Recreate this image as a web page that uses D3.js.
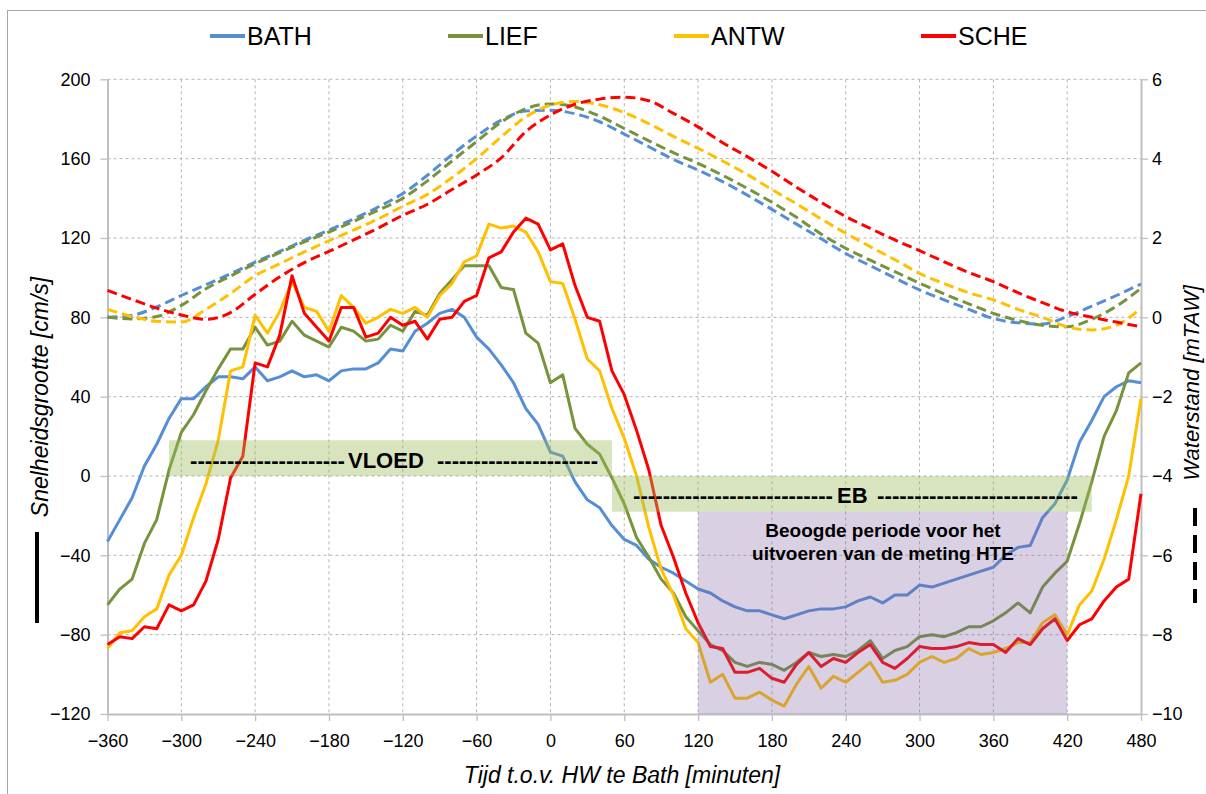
<!DOCTYPE html>
<html>
<head>
<meta charset="utf-8">
<script src="https://cdn.jsdelivr.net/npm/d3@7"></script>
<style>
  body { margin: 0; background: #fff; }
  svg { display: block; }
  text { font-family: "Liberation Sans", Arial, sans-serif; }
</style>
</head>
<body>
<svg id="chart" width="1206" height="794"></svg>
<script>
// Time axis (minutes relative to high water at Bath)
const timeSpeed = [
  -360,-350,-340,-330,-320,-310,-300,-290,-280,-270,
  -260,-250,-240,-230,-220,-210,-200,-190,-180,-170,
  -160,-150,-140,-130,-120,-110,-100,-90,-80,-70,
  -60,-50,-40,-30,-20,-10,0,10,20,30,
  40,50,60,70,80,90,100,110,120,130,
  140,150,160,170,180,190,200,210,220,230,
  240,250,260,270,280,290,300,310,320,330,
  340,350,360,370,380,390,400,410,420,430,
  440,450,460,470,480
];
const timeLevel = [
  -360,-340,-320,-300,-280,-260,-240,-220,-200,-180,
  -160,-140,-120,-100,-80,-60,-40,-20,0,20,
  40,60,80,100,120,140,160,180,200,220,
  240,260,280,300,320,340,360,380,400,420,
  440,460,480
];

// Current speed [cm/s] per station
const bathSpeed = [
  -33,-22,-11,5,16,29,39,39,45,50,
  50,49,55,48,50,53,50,51,48,53,
  54,54,57,64,63,73,77,82,84,80,
  70,64,56,47,34,26,12,10,-3,-12,
  -16,-25,-32,-35,-42,-46,-49,-53,-57,-59,
  -63,-66,-68,-68,-70,-72,-70,-68,-67,-67,
  -66,-63,-61,-64,-60,-60,-55,-56,-54,-52,
  -50,-48,-46,-40,-36,-35,-21,-14,-2,17,
  28,40,45,48,47
];
const liefSpeed = [
  -65,-57,-52,-34,-22,3,22,31,43,54,
  64,64,75,66,68,78,71,68,65,75,
  73,68,69,76,73,83,81,92,99,106,
  106,106,95,94,72,67,47,51,24,16,
  11,-1,-14,-31,-41,-52,-59,-71,-78,-85,
  -88,-94,-96,-94,-95,-98,-94,-89,-91,-90,
  -91,-88,-83,-92,-88,-86,-81,-80,-81,-79,
  -76,-76,-73,-69,-64,-69,-56,-49,-43,-24,
  -3,20,33,52,57
];
const antwSpeed = [
  -87,-79,-78,-71,-67,-50,-40,-21,-4,18,
  53,55,81,72,83,98,85,83,73,91,
  85,77,80,84,82,85,80,91,97,108,
  111,127,125,126,123,113,98,97,79,59,
  53,34,19,0,-26,-47,-60,-77,-84,-104,
  -100,-112,-112,-109,-113,-116,-105,-96,-107,-101,
  -104,-99,-94,-104,-103,-100,-94,-91,-94,-92,
  -87,-90,-89,-87,-84,-84,-74,-70,-80,-65,
  -58,-42,-22,0,39
];
const scheSpeed = [
  -85,-81,-82,-76,-77,-65,-68,-65,-53,-32,
  -1,10,57,55,71,101,82,75,68,85,
  85,70,72,80,76,78,69,79,80,88,
  91,110,113,123,130,127,114,117,96,80,
  78,53,41,23,3,-25,-41,-59,-74,-86,
  -87,-99,-99,-97,-102,-104,-95,-89,-96,-92,
  -94,-89,-85,-94,-97,-92,-86,-87,-87,-86,
  -84,-85,-85,-89,-82,-85,-77,-72,-83,-75,
  -72,-63,-56,-52,-9
];

// Water level [mTAW] per station
const bathLevel = [
  0.0,0.05,0.26,0.55,0.82,1.1,1.39,1.66,1.94,2.2,
  2.48,2.78,3.12,3.58,4.1,4.57,4.97,5.2,5.22,5.13,
  4.93,4.62,4.3,3.98,3.71,3.42,3.08,2.72,2.35,1.98,
  1.61,1.3,0.99,0.69,0.44,0.2,-0.03,-0.14,-0.17,0.02,
  0.28,0.55,0.84
];
const liefLevel = [
  0.0,-0.04,0.02,0.3,0.72,1.04,1.35,1.63,1.9,2.15,
  2.42,2.7,3.0,3.44,3.94,4.43,4.92,5.26,5.38,5.3,
  5.07,4.76,4.45,4.15,3.88,3.58,3.25,2.9,2.52,2.1,
  1.74,1.44,1.15,0.86,0.59,0.34,0.1,-0.08,-0.2,-0.24,
  -0.05,0.28,0.73
];
const antwLevel = [
  0.2,0.02,-0.1,-0.12,0.2,0.6,1.05,1.35,1.65,1.93,
  2.2,2.48,2.8,3.1,3.52,4.0,4.55,5.05,5.35,5.44,
  5.36,5.16,4.88,4.56,4.26,3.94,3.6,3.22,2.86,2.48,
  2.12,1.78,1.45,1.11,0.85,0.62,0.44,0.2,0.0,-0.24,
  -0.32,-0.2,0.23
];
const scheLevel = [
  0.68,0.45,0.23,0.06,-0.05,0.12,0.58,1.02,1.38,1.66,
  1.95,2.25,2.57,2.85,3.22,3.59,4.02,4.68,5.1,5.37,
  5.5,5.55,5.46,5.14,4.8,4.4,4.05,3.68,3.28,2.9,
  2.54,2.24,1.95,1.68,1.4,1.13,0.9,0.62,0.37,0.14,
  0.0,-0.12,-0.24
];

const stations = ["BATH", "LIEF", "ANTW", "SCHE"];
const colors = ["#558ED5", "#77933C", "#FFC000", "#FF0000"];
const speeds = [bathSpeed, liefSpeed, antwSpeed, scheSpeed];
const levels = [bathLevel, liefLevel, antwLevel, scheLevel];

// Axis ticks
const xTicks = [-360,-300,-240,-180,-120,-60,0,60,120,180,240,300,360,420,480];
const yLeftTicks = [-120,-80,-40,0,40,80,120,160,200];
const yRightTicks = [-10,-8,-6,-4,-2,0,2,4,6];

// Shaded phases: [start, end] in minutes, [low, high] in cm/s
const floodSpan = [-310, 50], floodBand = [0, 18];
const ebbSpan = [50, 440], ebbBand = [-18, 0];
const targetSpan = [120, 420], targetBand = [-120, -18];

const svg = d3.select("#chart");
const plot = { left: 107.5, right: 1141, top: 79.3, bottom: 714 };

const x = d3.scaleLinear().domain([-360, 480]).range([plot.left, plot.right]);
const yL = d3.scaleLinear().domain([-120, 200]).range([plot.bottom, plot.top]);
const yR = d3.scaleLinear().domain([-10, 6]).range([plot.bottom, plot.top]);

// Outer frame
svg.append("rect")
  .attr("x", 7.5).attr("y", 10.5).attr("width", 1220).attr("height", 800)
  .attr("fill", "none").attr("stroke", "#a6a6a6").attr("stroke-width", 1);

// Grid
const grid = svg.append("g").attr("stroke", "#b4b4b4").attr("stroke-width", 1)
  .attr("stroke-dasharray", "3,3");
grid.selectAll("line.h").data(yLeftTicks.filter(v => v > -120)).join("line")
  .attr("x1", plot.left).attr("x2", plot.right)
  .attr("y1", d => yL(d)).attr("y2", d => yL(d));
grid.selectAll("line.v").data(xTicks.filter(t => t > -360 && t < 480)).join("line")
  .attr("y1", plot.top).attr("y2", plot.bottom)
  .attr("x1", d => x(d)).attr("x2", d => x(d));

// Axes
function styleAxis(g) {
  g.select(".domain").attr("stroke", "#bfbfbf").attr("stroke-width", 2);
  g.selectAll(".tick line").attr("stroke", "#bfbfbf").attr("stroke-width", 1.3);
  g.selectAll(".tick text").attr("fill", "#000").style("font-size", "18px")
    .style("font-family", '"Liberation Sans", Arial, sans-serif');
}
svg.append("g").attr("transform", `translate(0,${plot.bottom})`)
  .call(d3.axisBottom(x).tickValues(xTicks).tickSize(7).tickSizeOuter(0).tickPadding(13))
  .call(styleAxis);
svg.append("g").attr("transform", `translate(${plot.left},0)`)
  .call(d3.axisLeft(yL).tickValues(yLeftTicks).tickSize(7).tickSizeOuter(0).tickPadding(10))
  .call(styleAxis);
svg.append("g").attr("transform", `translate(${plot.right},0)`)
  .call(d3.axisRight(yR).tickValues(yRightTicks).tickSize(7).tickSizeOuter(0).tickPadding(4))
  .call(styleAxis);

// Water level curves (dashed, right axis)
const levelLine = d3.line().x(d => x(d[0])).y(d => yR(d[1])).curve(d3.curveMonotoneX);
levels.forEach((vals, i) => {
  svg.append("path")
    .datum(timeLevel.map((t, k) => [t, vals[k]]))
    .attr("d", levelLine)
    .attr("fill", "none").attr("stroke", colors[i]).attr("stroke-width", 3)
    .attr("stroke-dasharray", "10,5");
});

// Current speed curves (solid, left axis)
const speedLine = d3.line().x(d => x(d[0])).y(d => yL(d[1]));
speeds.forEach((vals, i) => {
  svg.append("path")
    .datum(timeSpeed.map((t, k) => [t, vals[k]]))
    .attr("d", speedLine)
    .attr("fill", "none").attr("stroke", colors[i]).attr("stroke-width", 3)
    .attr("stroke-linejoin", "round");
});

// Phase shading
function band(span, range, fill, opacity) {
  svg.append("rect")
    .attr("x", x(span[0])).attr("width", x(span[1]) - x(span[0]))
    .attr("y", yL(range[1])).attr("height", yL(range[0]) - yL(range[1]))
    .attr("fill", fill).attr("fill-opacity", opacity);
}
band(floodSpan, floodBand, "rgb(155,187,89)", 0.4);
band(ebbSpan, ebbBand, "rgb(155,187,89)", 0.4);
band(targetSpan, targetBand, "rgb(128,100,162)", 0.3);

// Phase labels
const lab = svg.append("g").attr("font-weight", "bold").attr("font-size", 22).attr("fill", "#000");
function dashes(x0, x1, y, s) {
  lab.append("text").attr("x", x0).attr("y", y)
    .attr("textLength", x1 - x0).attr("lengthAdjust", "spacingAndGlyphs").text(s);
}
dashes(190, 345, 468, "---------------------");
lab.append("text").attr("x", 348).attr("y", 468).text("VLOED");
dashes(437, 598, 468, "----------------------");
dashes(633, 833, 503, "---------------------------");
lab.append("text").attr("x", 837).attr("y", 503).text("EB");
dashes(877, 1078, 503, "---------------------------");

const target = svg.append("g").attr("font-weight", "bold").attr("font-size", 19)
  .attr("fill", "#000").attr("text-anchor", "middle");
target.append("text").attr("x", 883).attr("y", 537).text("Beoogde periode voor het");
target.append("text").attr("x", 883).attr("y", 560).text("uitvoeren van de meting HTE");

// Legend
const legendX = [210, 448, 674, 921];
const legend = svg.append("g");
stations.forEach((name, i) => {
  legend.append("line")
    .attr("x1", legendX[i]).attr("x2", legendX[i] + 35)
    .attr("y1", 36).attr("y2", 36)
    .attr("stroke", colors[i]).attr("stroke-width", 4);
  legend.append("text")
    .attr("x", legendX[i] + 37).attr("y", 45)
    .attr("font-size", 25).attr("fill", "#000").text(name);
});

// Axis titles
svg.append("text")
  .attr("transform", "translate(48,397) rotate(-90)")
  .attr("text-anchor", "middle").attr("font-size", 23).attr("font-style", "italic")
  .text("Snelheidsgrootte [cm/s]");
svg.append("text")
  .attr("transform", "translate(1199,383) rotate(-90)")
  .attr("text-anchor", "middle").attr("font-size", 22).attr("font-style", "italic")
  .text("Waterstand [mTAW]");
svg.append("text")
  .attr("x", 622).attr("y", 783)
  .attr("text-anchor", "middle").attr("font-size", 23).attr("font-style", "italic")
  .text("Tijd t.o.v. HW te Bath [minuten]");

// Line-style keys next to the axis titles
svg.append("line").attr("x1", 37).attr("x2", 37).attr("y1", 532).attr("y2", 623)
  .attr("stroke", "#000").attr("stroke-width", 4);
svg.append("line").attr("x1", 1195).attr("x2", 1195).attr("y1", 508).attr("y2", 603)
  .attr("stroke", "#000").attr("stroke-width", 4).attr("stroke-dasharray", "18,9");
</script>
</body>
</html>
